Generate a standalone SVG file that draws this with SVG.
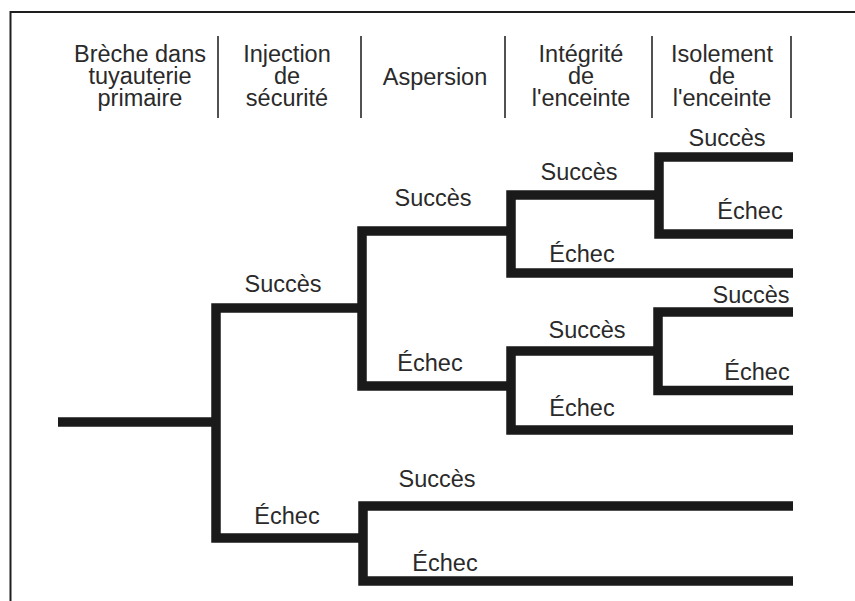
<svg xmlns="http://www.w3.org/2000/svg" width="855" height="601" viewBox="0 0 855 601">
  <style>
    .frame { fill: none; stroke: #1e1e1e; stroke-width: 2; }
    .sep { fill: none; stroke: #262626; stroke-width: 1.6; }
    .branch { fill: none; stroke: #1a1a1a; stroke-width: 9.5; stroke-linejoin: miter; stroke-linecap: butt; }
    text { font-family: "Liberation Sans", Arial, sans-serif; font-size: 23.5px; fill: #2a2a2a; text-anchor: middle; }
  </style>

  <rect x="0" y="0" width="855" height="601" fill="#ffffff"/>

  <!-- frame: top and left edges -->
  <path class="frame" d="M10.5,601 V12 H855"/>

  <!-- column headings -->
  <g id="headers">
    <g id="col-breche">
      <text x="140" y="62">Brèche dans</text>
      <text x="140" y="84">tuyauterie</text>
      <text x="140" y="106">primaire</text>
    </g>
    <g id="col-injection">
      <text x="287" y="62">Injection</text>
      <text x="287" y="84">de</text>
      <text x="287" y="106">sécurité</text>
    </g>
    <g id="col-aspersion">
      <text x="435" y="85">Aspersion</text>
    </g>
    <g id="col-integrite">
      <text x="581" y="62">Intégrité</text>
      <text x="581" y="84">de</text>
      <text x="581" y="106">l'enceinte</text>
    </g>
    <g id="col-isolement">
      <text x="722" y="62">Isolement</text>
      <text x="722" y="84">de</text>
      <text x="722" y="106">l'enceinte</text>
    </g>
    <g id="separators">
      <line class="sep" x1="218" y1="36" x2="218" y2="118"/>
      <line class="sep" x1="361" y1="36" x2="361" y2="118"/>
      <line class="sep" x1="505" y1="36" x2="505" y2="118"/>
      <line class="sep" x1="652" y1="36" x2="652" y2="118"/>
      <line class="sep" x1="791" y1="36" x2="791" y2="118"/>
    </g>
  </g>

  <!-- event tree branches -->
  <g id="connectors">
    <path class="branch" d="M58,422 H216"/>
    <path class="branch" d="M362,308 H216 V538 H362"/>
    <path class="branch" d="M511,231 H362 V386 H511"/>
    <path class="branch" d="M659,195 H511 V273 H793"/>
    <path class="branch" d="M793,157 H659 V234 H793"/>
    <path class="branch" d="M658,351 H511 V430 H793"/>
    <path class="branch" d="M793,312 H658 V390.5 H793"/>
    <path class="branch" d="M793,506 H363 V581 H793"/>
  </g>

  <!-- branch outcome labels -->
  <g id="labels">
    <g id="injection-labels">
      <text x="283" y="292">Succès</text>
      <text x="287" y="524">Échec</text>
    </g>
    <g id="aspersion-labels">
      <text x="433" y="206">Succès</text>
      <text x="430" y="371">Échec</text>
      <text x="437" y="487">Succès</text>
      <text x="445" y="571">Échec</text>
    </g>
    <g id="integrite-labels">
      <text x="579" y="180">Succès</text>
      <text x="582" y="262">Échec</text>
      <text x="587" y="338">Succès</text>
      <text x="582" y="416">Échec</text>
    </g>
    <g id="isolement-labels">
      <text x="727" y="146">Succès</text>
      <text x="750" y="219">Échec</text>
      <text x="751" y="303">Succès</text>
      <text x="757" y="380">Échec</text>
    </g>
  </g>
</svg>
